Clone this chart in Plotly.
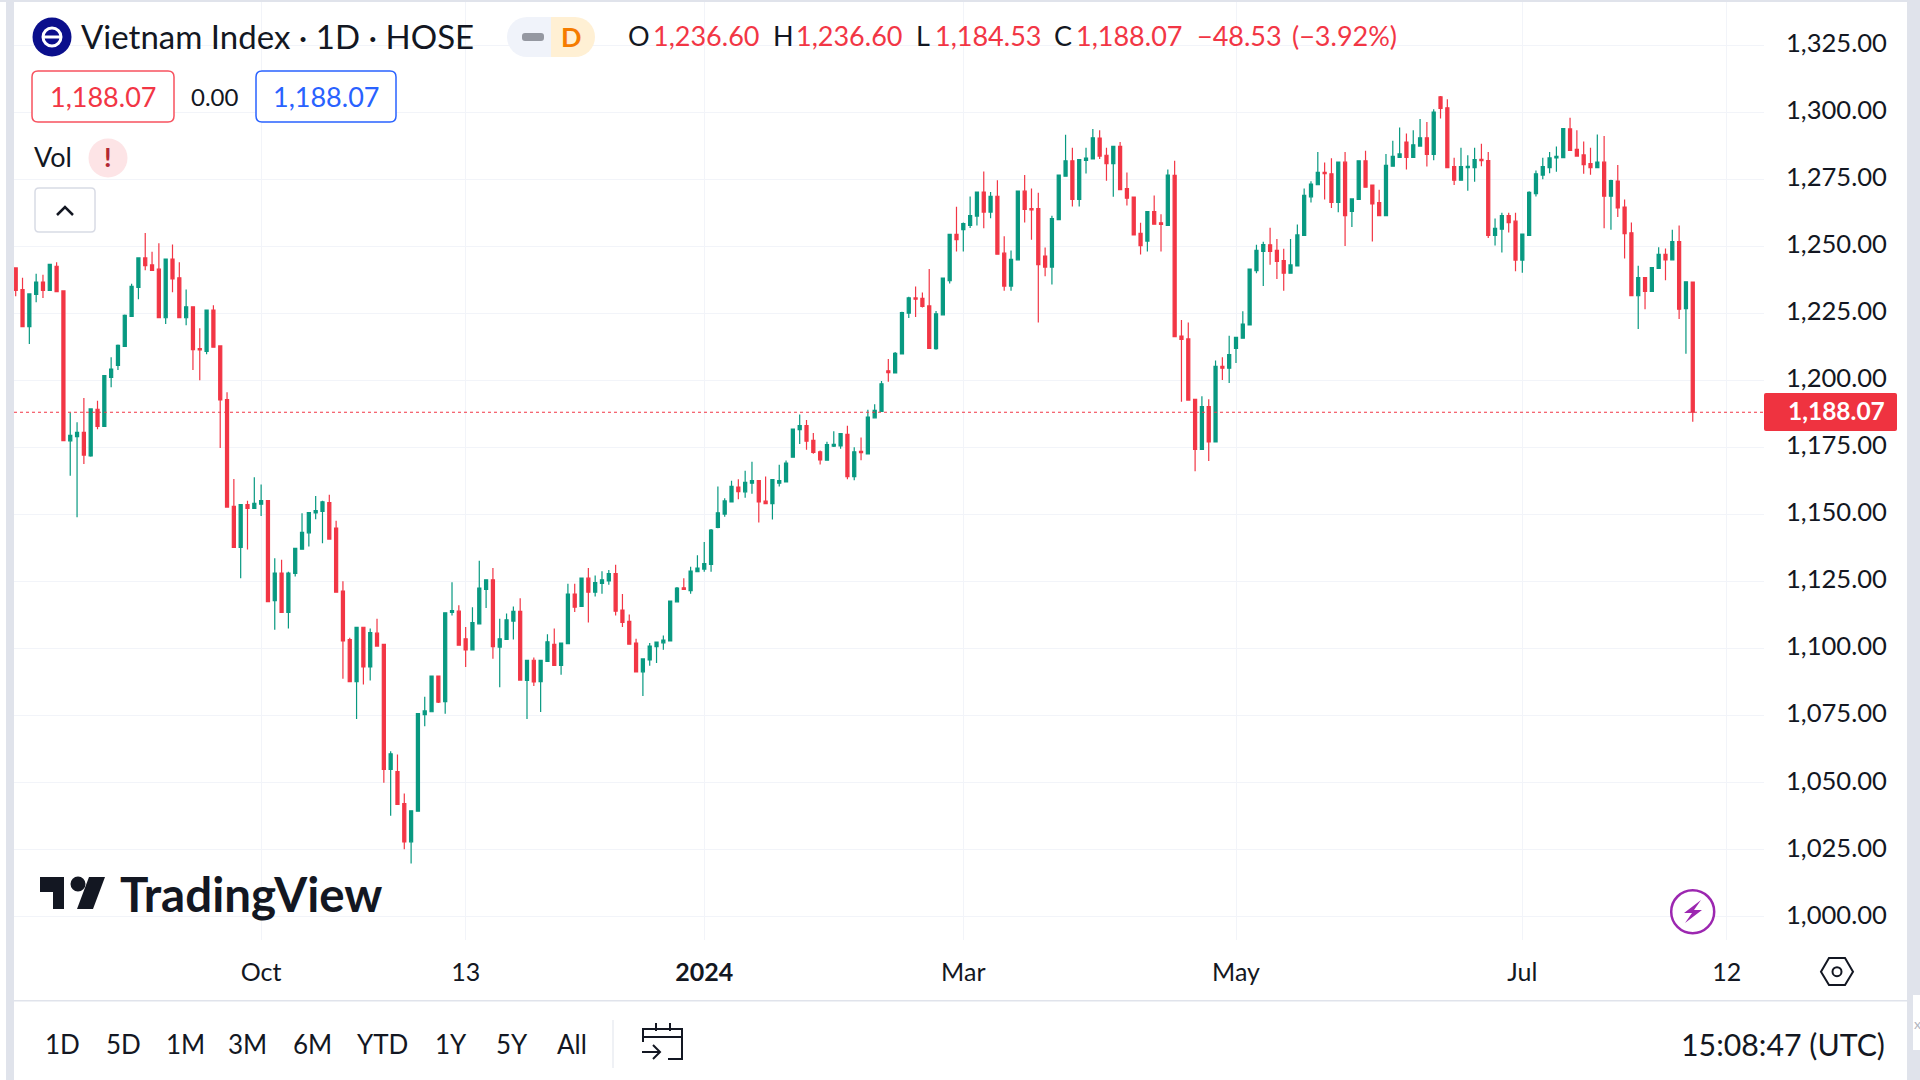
import plotly.graph_objects as go

# daily bars, oldest first
opens = [
    1241.9,1233.8,1220.0,1232.0,1236.6,1233.5,1242.5,1233.3,1177.4,1179.0,
    1180.6,1171.8,1189.2,1182.8,1201.1,1205.5,1212.6,1223.8,1234.6,1245.6,
    1243.0,1241.4,1223.3,1245.2,1238.2,1223.3,1227.4,1211.8,1210.8,1226.2,
    1212.8,1192.8,1153.0,1137.7,1153.6,1152.2,1153.8,1155.1,1117.8,1128.1,
    1113.4,1128.0,1137.0,1143.1,1150.5,1151.1,1154.4,1144.9,1121.4,1103.3,
    1087.6,1107.9,1093.1,1105.7,1101.5,1054.9,1054.1,1042.2,1027.9,1039.3,
    1075.3,1076.4,1089.7,1080.2,1113.4,1113.9,1103.6,1099.5,1109.2,1122.0,
    1125.6,1100.5,1103.4,1110.2,1113.8,1088.1,1095.6,1087.6,1095.2,1101.5,
    1093.7,1101.8,1120.3,1115.7,1126.2,1121.0,1124.3,1125.2,1127.9,1114.3,
    1110.1,1102.0,1091.3,1095.7,1100.7,1102.1,1102.8,1117.4,1122.6,1121.6,
    1128.6,1129.6,1131.3,1145.1,1150.1,1154.6,1160.2,1158.4,1161.6,1162.6,
    1154.9,1154.0,1161.6,1162.1,1171.3,1181.6,1183.1,1177.6,1173.3,1170.2,
    1175.4,1175.5,1179.8,1164.1,1173.5,1172.5,1186.0,1188.4,1203.5,1202.7,
    1209.8,1225.0,1230.7,1230.5,1227.7,1211.8,1224.4,1237.1,1254.4,1256.2,
    1257.7,1261.2,1270.2,1262.7,1268.6,1247.4,1235.1,1244.9,1270.5,1264.0,
    1264.0,1246.3,1242.2,1259.9,1276.1,1281.8,1267.4,1282.0,1282.5,1290.3,
    1283.9,1280.8,1287.2,1271.5,1268.3,1254.8,1251.9,1262.9,1258.7,1257.7,
    1276.4,1216.5,1215.4,1192.9,1174.2,1190.2,1177.0,1205.2,1204.5,1211.9,
    1215.7,1220.6,1240.9,1248.0,1250.5,1248.4,1244.6,1239.9,1242.6,1254.0,
    1268.4,1272.9,1277.5,1277.0,1266.3,1281.3,1263.0,1267.4,1281.8,1272.8,
    1266.2,1261.4,1279.8,1283.1,1288.8,1283.1,1287.3,1290.4,1284.2,1305.7,
    1301.6,1279.7,1274.6,1279.3,1279.3,1282.4,1281.9,1254.0,1256.3,1261.4,
    1259.3,1244.8,1254.0,1269.6,1276.5,1279.3,1282.9,1283.0,1293.7,1286.1,
    1284.0,1280.8,1279.3,1281.3,1268.6,1274.3,1264.6,1255.0,1231.5,1238.3,
    1233.1,1241.7,1246.9,1244.9,1251.7,1226.7,1236.6,
]
highs = [
    1241.9,1238.2,1232.2,1239.7,1239.3,1243.4,1244.0,1233.3,1188.0,1184.3,
    1193.4,1189.5,1192.4,1201.7,1208.6,1213.3,1224.5,1236.0,1245.6,1254.9,
    1247.9,1251.1,1245.2,1250.6,1244.0,1233.8,1227.4,1219.4,1226.4,1228.0,
    1212.8,1195.5,1163.2,1153.6,1155.1,1163.8,1161.1,1155.1,1133.6,1133.1,
    1128.6,1137.3,1150.4,1150.7,1156.8,1155.1,1157.3,1147.6,1125.1,1104.0,
    1108.0,1107.9,1107.4,1111.1,1101.5,1061.7,1060.5,1045.9,1039.7,1075.7,
    1082.0,1089.7,1089.7,1113.3,1124.7,1116.1,1108.0,1115.4,1132.7,1125.6,
    1130.0,1111.1,1113.0,1115.6,1118.7,1095.6,1096.6,1095.6,1105.3,1107.4,
    1102.0,1124.1,1124.1,1126.2,1130.0,1127.2,1128.8,1129.3,1131.2,1120.3,
    1112.7,1103.6,1096.1,1102.0,1102.5,1104.8,1117.9,1122.9,1126.2,1130.5,
    1134.8,1139.7,1144.5,1160.4,1156.0,1162.5,1163.1,1166.3,1169.6,1162.6,
    1164.1,1163.1,1168.5,1170.1,1182.0,1187.2,1185.2,1180.3,1173.8,1177.1,
    1181.0,1180.3,1183.0,1175.0,1178.7,1189.0,1191.1,1199.7,1207.9,1210.5,
    1225.5,1231.1,1235.0,1232.7,1241.5,1225.8,1238.1,1254.4,1264.7,1258.8,
    1268.5,1270.2,1277.8,1270.2,1274.6,1253.7,1248.4,1270.5,1276.5,1271.5,
    1269.9,1249.5,1261.3,1276.5,1291.5,1286.7,1282.3,1286.7,1293.7,1293.2,
    1286.7,1287.2,1288.8,1277.5,1268.4,1258.7,1263.0,1268.9,1261.9,1278.6,
    1281.8,1222.5,1221.5,1192.9,1194.0,1192.9,1207.4,1208.6,1216.6,1216.0,
    1225.7,1241.4,1250.5,1251.6,1256.9,1252.7,1249.0,1252.7,1258.1,1271.5,
    1274.2,1285.1,1281.2,1282.8,1281.3,1285.1,1267.9,1281.8,1285.6,1272.8,
    1271.0,1284.4,1289.3,1294.2,1292.0,1293.2,1297.4,1296.3,1301.0,1306.0,
    1304.8,1283.0,1286.7,1283.9,1286.7,1288.2,1285.1,1260.3,1262.5,1262.5,
    1262.5,1254.5,1270.5,1278.2,1283.0,1285.1,1287.2,1294.0,1297.9,1293.2,
    1289.0,1286.7,1291.6,1291.1,1274.8,1280.3,1267.4,1258.8,1242.7,1238.3,
    1242.0,1249.6,1249.1,1256.1,1257.7,1236.7,1236.6,
]
lows = [
    1231.3,1220.0,1213.5,1229.1,1230.7,1233.5,1233.0,1177.5,1164.4,1148.9,
    1168.8,1171.5,1181.7,1182.8,1197.4,1203.8,1212.6,1223.8,1230.2,1241.0,
    1240.7,1223.3,1221.0,1232.8,1223.3,1220.5,1203.8,1200.0,1209.7,1212.1,
    1174.7,1152.7,1137.7,1126.2,1136.9,1152.2,1149.4,1117.3,1107.0,1113.4,
    1107.4,1126.8,1137.0,1138.0,1148.2,1139.2,1140.8,1121.0,1088.7,1087.6,
    1073.7,1086.6,1088.1,1100.8,1049.9,1037.6,1041.9,1025.1,1019.8,1039.3,
    1071.0,1076.4,1079.7,1075.7,1112.3,1101.2,1093.1,1099.5,1109.2,1115.1,
    1096.2,1085.5,1103.3,1103.3,1088.2,1073.7,1086.0,1076.3,1095.2,1093.6,
    1090.2,1101.8,1113.6,1115.7,1109.7,1119.4,1120.4,1123.8,1112.3,1108.0,
    1101.6,1091.3,1082.3,1093.6,1094.6,1099.5,1102.8,1117.3,1122.0,1120.4,
    1128.6,1128.6,1128.6,1144.8,1149.1,1154.5,1155.6,1156.2,1157.7,1147.0,
    1153.9,1148.1,1160.4,1162.1,1171.3,1176.2,1174.1,1172.6,1168.6,1170.2,
    1175.1,1174.5,1163.1,1162.7,1170.2,1172.5,1186.0,1188.4,1199.4,1202.7,
    1209.8,1223.2,1223.6,1227.1,1211.9,1211.4,1224.4,1236.1,1248.0,1248.0,
    1256.8,1257.7,1256.7,1260.4,1247.0,1233.4,1233.4,1244.9,1258.8,1252.4,
    1221.5,1238.8,1235.7,1259.9,1276.1,1264.8,1264.8,1277.1,1282.5,1282.5,
    1274.4,1268.4,1271.1,1265.2,1254.0,1246.9,1248.0,1258.2,1248.0,1257.7,
    1216.3,1192.0,1192.6,1166.1,1174.2,1169.9,1177.0,1200.1,1199.0,1206.4,
    1215.7,1220.6,1239.9,1235.1,1243.1,1237.8,1233.4,1239.9,1242.6,1254.0,
    1266.3,1272.9,1267.4,1264.2,1262.6,1250.1,1257.1,1267.4,1271.8,1251.7,
    1261.4,1261.4,1279.8,1283.1,1278.6,1283.1,1287.3,1279.7,1282.0,1297.6,
    1279.3,1272.8,1274.6,1270.7,1274.0,1279.8,1253.0,1250.2,1247.6,1255.1,
    1240.6,1240.1,1254.0,1268.5,1274.9,1277.2,1277.7,1283.0,1285.7,1283.5,
    1277.0,1276.6,1279.3,1256.7,1256.1,1260.9,1245.4,1231.5,1219.1,1226.5,
    1233.1,1241.7,1237.3,1244.9,1222.8,1209.9,1184.53,
]
closes = [
    1233.5,1220.0,1232.2,1236.6,1233.5,1243.2,1233.0,1177.5,1179.5,1180.6,
    1172.1,1189.3,1182.8,1201.7,1204.2,1213.0,1224.2,1235.0,1245.6,1242.7,
    1241.0,1223.3,1245.2,1237.8,1223.3,1227.4,1211.4,1211.3,1226.2,1212.3,
    1192.7,1152.7,1137.7,1153.6,1152.2,1154.1,1155.1,1117.5,1128.1,1113.4,
    1128.1,1137.3,1143.3,1150.7,1151.4,1154.7,1140.8,1121.0,1102.8,1087.6,
    1107.9,1093.1,1105.9,1100.9,1054.9,1060.7,1041.9,1027.9,1039.5,1075.7,
    1076.7,1089.7,1080.0,1113.3,1114.1,1101.2,1099.5,1109.6,1122.5,1125.6,
    1100.7,1103.6,1110.7,1113.8,1088.2,1095.6,1087.5,1095.6,1102.5,1093.7,
    1102.0,1120.3,1115.4,1126.2,1121.0,1124.6,1125.6,1127.9,1113.9,1109.7,
    1101.6,1091.3,1096.1,1100.9,1102.4,1103.1,1117.7,1122.5,1122.0,1128.8,
    1130.0,1131.6,1144.1,1150.6,1155.0,1160.4,1158.5,1161.9,1162.6,1154.6,
    1154.0,1163.0,1162.6,1169.1,1181.8,1183.1,1177.3,1173.1,1170.3,1176.0,
    1176.1,1180.1,1164.1,1173.3,1173.0,1186.3,1188.8,1198.7,1202.8,1210.0,
    1225.2,1230.7,1230.2,1227.5,1211.9,1224.8,1238.1,1254.4,1252.4,1258.4,
    1261.4,1270.2,1262.7,1268.6,1247.0,1235.1,1245.1,1270.5,1263.7,1263.5,
    1243.1,1242.2,1260.3,1276.5,1281.8,1267.4,1282.3,1282.8,1290.4,1283.6,
    1280.8,1287.2,1271.1,1267.9,1254.2,1250.2,1262.9,1258.2,1258.1,1276.5,
    1216.3,1215.2,1192.6,1174.2,1190.2,1177.0,1205.2,1204.5,1209.6,1216.0,
    1220.9,1241.4,1248.4,1250.6,1248.0,1244.3,1239.9,1243.0,1254.2,1268.9,
    1273.1,1277.5,1277.0,1266.3,1281.3,1261.4,1267.6,1281.8,1272.0,1265.8,
    1261.4,1280.1,1283.5,1284.4,1283.1,1287.8,1290.4,1284.2,1300.0,1301.4,
    1279.3,1274.6,1279.7,1279.8,1282.3,1281.9,1254.0,1256.6,1261.4,1258.8,
    1244.8,1254.5,1270.1,1277.0,1279.7,1282.9,1283.5,1293.8,1285.7,1283.6,
    1280.4,1279.3,1281.3,1268.6,1274.4,1264.3,1254.7,1231.5,1238.3,1233.1,
    1242.0,1246.9,1244.9,1251.7,1226.5,1236.7,1188.07,
]
assert len(opens) == len(highs) == len(lows) == len(closes) == 247

bars = list(range(len(closes)))
last_close = closes[-1]

# time axis labels sit on bar numbers, since weekends are squeezed out
time_ticks = [36, 66, 101, 139, 179, 221, 251]
time_labels = ["Oct", "13", "<b>2024</b>", "Mar", "May", "Jul", "12"]
range_buttons = [("1D", 62), ("5D", 123), ("1M", 185), ("3M", 248), ("6M", 312),
                 ("YTD", 382), ("1Y", 451), ("5Y", 512), ("All", 572)]

UP = "#089981"
DOWN = "#f23645"
INK = "#131722"
BAND = "#e0e3eb"
GRID = "#f2f4f9"
FONT = "Lato"

# plot area in page pixels
L, R, T, B = 14, 1764, 0, 940


def px(x):
    return (x - L) / (R - L)


def py(y):
    return 1 - (y - T) / (B - T)


shapes = []
notes = []


def rect(x0, y0, x1, y1, fill, line=None, lw=1):
    shapes.append(dict(type="rect", xref="paper", yref="paper", x0=px(x0), x1=px(x1),
                       y0=py(y0), y1=py(y1), fillcolor=fill,
                       line=dict(color=line or fill, width=lw if line else 0)))


def circle(cx, cy, r, fill, line=None, lw=1):
    shapes.append(dict(type="circle", xref="paper", yref="paper", x0=px(cx - r), x1=px(cx + r),
                       y0=py(cy + r), y1=py(cy - r), fillcolor=fill,
                       line=dict(color=line or fill, width=lw if line else 0)))


def poly(points, fill=None, line=None, lw=1, close=True):
    d = "M" + " L".join(f"{px(x):.5f},{py(y):.5f}" for x, y in points) + (" Z" if close else "")
    shapes.append(dict(type="path", xref="paper", yref="paper", path=d,
                       fillcolor=fill or "rgba(0,0,0,0)",
                       line=dict(color=line or "rgba(0,0,0,0)", width=lw if line else 0)))


def round_box(x0, y0, x1, y1, r, fill, line, lw=1.5):
    p = lambda x, y: f"{px(x):.5f},{py(y):.5f}"
    d = (f"M{p(x0 + r, y0)} L{p(x1 - r, y0)} Q{p(x1, y0)} {p(x1, y0 + r)} L{p(x1, y1 - r)} "
         f"Q{p(x1, y1)} {p(x1 - r, y1)} L{p(x0 + r, y1)} Q{p(x0, y1)} {p(x0, y1 - r)} "
         f"L{p(x0, y0 + r)} Q{p(x0, y0)} {p(x0 + r, y0)} Z")
    shapes.append(dict(type="path", xref="paper", yref="paper", path=d, fillcolor=fill,
                       line=dict(color=line, width=lw)))


def text(x, y, s, size=27, color=INK, anchor="left", family=FONT):
    notes.append(dict(xref="paper", yref="paper", x=px(x), y=py(y), text=s, showarrow=False,
                      xanchor=anchor, yanchor="middle", borderpad=0, borderwidth=0,
                      font=dict(family=family, size=size, color=color)))


# surrounding page bands
rect(6, 0, 14, 1080, BAND)
rect(0, 0, 1920, 2, BAND)
rect(1907, 0, 1920, 1080, BAND)
rect(1913, 995, 1920, 1050, "#ffffff")
text(1917, 1023, "x", size=14, color="#b2b5be", anchor="center")
rect(14, 1000, 1907, 1001.5, BAND)

# last price line and its tag
shapes.append(dict(type="line", xref="paper", yref="y", x0=0, x1=1, y0=last_close, y1=last_close,
                   line=dict(color=DOWN, width=1, dash="dot")))
round_box(1764, 393, 1897, 431, 2, "#ef3340", "#ef3340", lw=0)
text(1885, 410.5, f"<b>{last_close:,.2f}</b>", size=24.5, color="#ffffff", anchor="right")

# header
circle(52, 37, 19.5, "#0b0f8c")
circle(52, 37, 9, "#0b0f8c", "#ffffff", 3)
poly([(44, 37), (60, 37)], line="#ffffff", lw=3, close=False)
text(81, 36, "Vietnam Index · 1D · HOSE", size=33)
circle(527, 37, 20, "#f0f3fa")
rect(527, 17, 551, 57, "#f0f3fa")
circle(575, 37, 20, "#fff0d4")
rect(551, 17, 575, 57, "#fff0d4")
round_box(522, 33, 544, 41, 3, "#9598a1", "#9598a1", lw=0)
text(571, 36.5, "<b>D</b>", size=27, color="#f57c00", anchor="center")

text(639, 36, "O", anchor="center")
text(653, 36, "1,236.60", color=DOWN)
text(783, 36, "H", anchor="center")
text(796, 36, "1,236.60", color=DOWN)
text(923, 36, "L", anchor="center")
text(935, 36, "1,184.53", color=DOWN)
text(1063, 36, "C", anchor="center")
text(1076, 36, "1,188.07", color=DOWN)
text(1197, 36, "−48.53", color=DOWN)
text(1292, 36, "(−3.92%)", color=DOWN)

# buy / sell boxes
round_box(32, 71, 174, 122, 6, "#ffffff", "#f7525f")
text(103, 97, "1,188.07", color=DOWN, anchor="center")
text(215, 97, "0.00", size=24, anchor="center")
round_box(256, 71, 396, 122, 6, "#ffffff", "#2962ff")
text(326, 97, "1,188.07", color="#2962ff", anchor="center")

# Vol row and collapse button
text(34, 157, "Vol", size=27)
circle(108, 158, 19.5, "#fde4e6")
text(108, 157, "<b>!</b>", size=27, color="#b22833", anchor="center")
round_box(35, 188, 95, 232, 4, "#ffffff", "#d8dbe5")
poly([(57, 215), (65, 207), (73, 215)], line=INK, lw=2.5, close=False)

# logo
poly([(40, 877), (64, 877), (64, 909), (53, 909), (53, 892), (40, 892)], fill=INK)
circle(78, 884, 7.5, INK)
poly([(89, 877), (105, 877), (93, 909), (77, 909)], fill=INK)
text(120, 893, "<b>TradingView</b>", size=47.5)

# purple bolt
circle(1692.7, 911.7, 21.5, "#ffffff", "#9c27b0", 2.5)
poly([(1701, 900), (1684, 913), (1692, 913), (1685, 923), (1702, 910), (1694, 910)], fill="#9c27b0")

# settings hex on the axis corner
poly([(1821, 971.7), (1829, 958), (1845, 958), (1853, 971.7), (1845, 985), (1829, 985)], line=INK, lw=2)
circle(1837, 971.7, 4.5, "#ffffff", INK, 2)

# bottom range bar
for label, x in range_buttons:
    text(x, 1044, label, size=26, anchor="center")
rect(612.5, 1020, 613.5, 1068, BAND)
poly([(668, 1059), (682, 1059), (682, 1029), (643, 1029), (643, 1042)], line=INK, lw=2, close=False)
poly([(643, 1037), (682, 1037)], line=INK, lw=2, close=False)
poly([(656, 1023), (656, 1031)], line=INK, lw=2, close=False)
poly([(670, 1023), (670, 1031)], line=INK, lw=2, close=False)
poly([(642, 1052), (660, 1052)], line=INK, lw=2, close=False)
poly([(653, 1045), (660, 1052), (653, 1059)], line=INK, lw=2, close=False)
text(1885, 1044, "15:08:47 (UTC)", size=30.3, anchor="right")

fig = go.Figure(go.Candlestick(
    x=bars, open=opens, high=highs, low=lows, close=closes,
    increasing=dict(line=dict(color=UP, width=1.2), fillcolor=UP),
    decreasing=dict(line=dict(color=DOWN, width=1.2), fillcolor=DOWN),
    whiskerwidth=0,
))

fig.update_layout(
    width=1920, height=1080,
    margin=dict(l=L, r=1920 - R, t=T, b=1080 - B),
    paper_bgcolor="#ffffff", plot_bgcolor="#ffffff",
    showlegend=False, boxgap=0.55, boxgroupgap=0,
    shapes=shapes, annotations=notes,
    font=dict(family=FONT, color=INK),
)
fig.update_xaxes(
    range=[-0.25, 256.45], rangeslider_visible=False, showline=False, zeroline=False,
    tickmode="array", tickvals=time_ticks, ticktext=time_labels, ticks="",
    ticklabelstandoff=15, tickfont=dict(size=25, family=FONT, color=INK),
    showgrid=True, gridcolor=GRID, gridwidth=1.2,
)
fig.update_yaxes(
    range=[991.3, 1341.78], side="right", showline=False, zeroline=False,
    tick0=1000, dtick=25, tickformat=",.2f", ticks="", ticklabelstandoff=21,
    tickfont=dict(size=25.6, family=FONT, color=INK),
    showgrid=True, gridcolor=GRID, gridwidth=1.2,
)

# y tick labels sit a little above their gridlines in the original
lift = """
document.body.style.margin='0';document.body.style.overflow='hidden';
document.querySelectorAll('.ytick text').forEach(function(t){
  t.setAttribute('transform',(t.getAttribute('transform')||'')+' translate(0,-2)');
});
"""
fig.write_html("out.html", config={"displayModeBar": False}, post_script=lift)
